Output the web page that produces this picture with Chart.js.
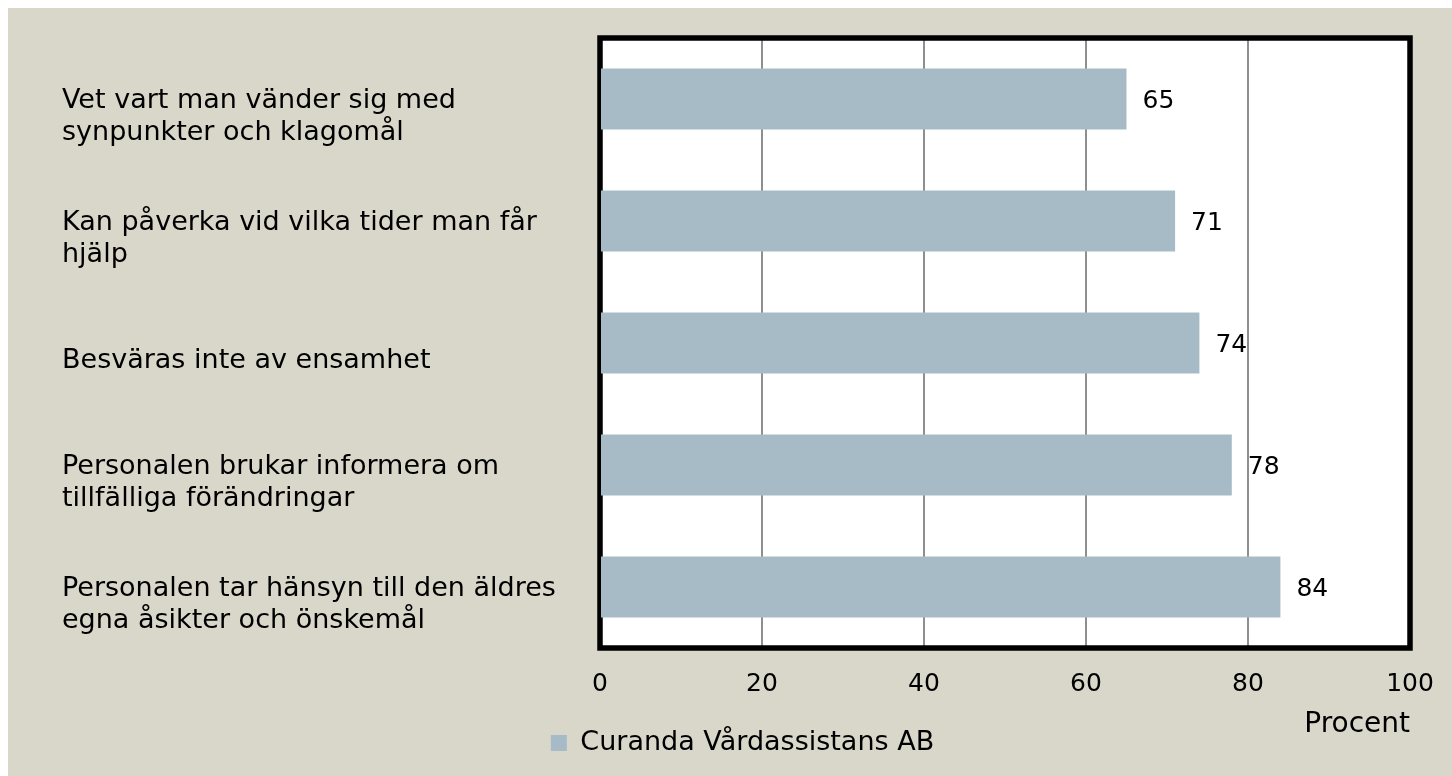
<!DOCTYPE html>
<html lang="sv">
<head>
<meta charset="utf-8">
<title>Curanda Vårdassistans AB</title>
<script src="https://cdn.jsdelivr.net/npm/chart.js@4.4.1/dist/chart.umd.min.js"></script>
<style>
  html, body { margin: 0; padding: 0; background: #ffffff; }
  #ram { position: absolute; left: 8px; top: 8px; width: 1444px; height: 768px; background: #d9d6ca; }
</style>
</head>
<body>
<div id="ram"><canvas id="grafico"></canvas></div>
<script>
// Data
const kategorier = [
    ['Vet vart man vänder sig med', 'synpunkter och klagomål'],
    ['Kan påverka vid vilka tider man får', 'hjälp'],
    'Besväras inte av ensamhet',
    ['Personalen brukar informera om', 'tillfälliga förändringar'],
    ['Personalen tar hänsyn till den äldres', 'egna åsikter och önskemål']
];
const andelar = [65, 71, 74, 78, 84];
const xMin = 0;
const xMax = 100;
const xSteg = 20;
const serieNamn = 'Curanda Vårdassistans AB';
const axelTitel = 'Procent';

const FONT = "'DejaVu Sans', sans-serif";
const BAR_COLOR = '#a7bbc6';

Chart.defaults.font.family = FONT;
Chart.defaults.color = '#000000';

// vit rityta + tjock svart ram (staplarna ritas ovanpå)
const ramPlugin = {
    id: 'ramPlugin',
    beforeDraw(chart) {
        const { ctx, chartArea: a } = chart;
        ctx.save();
        ctx.fillStyle = '#ffffff';
        ctx.fillRect(a.left, a.top, a.width, a.height);
        ctx.restore();
    },
    beforeDatasetsDraw(chart) {
        const { ctx, chartArea: a } = chart;
        ctx.save();
        ctx.strokeStyle = '#000000';
        ctx.lineWidth = 5.5;
        ctx.strokeRect(a.left, a.top, a.width, a.height);
        ctx.restore();
    }
};

// värden till höger om staplarna
const vardePlugin = {
    id: 'vardePlugin',
    afterDatasetsDraw(chart) {
        const { ctx } = chart;
        const meta = chart.getDatasetMeta(0);
        ctx.save();
        ctx.font = '25px ' + FONT;
        ctx.fillStyle = '#000000';
        ctx.textAlign = 'left';
        ctx.textBaseline = 'middle';
        meta.data.forEach((bar, i) => {
            ctx.fillText(String(andelar[i]), bar.x + 16, bar.y + 2);
        });
        ctx.restore();
    }
};

const ctx = document.getElementById('grafico');

new Chart(ctx, {
    type: 'bar',
    data: {
        labels: kategorier,
        datasets: [{
            label: serieNamn,
            data: andelar,
            backgroundColor: BAR_COLOR,
            borderWidth: 0,
            categoryPercentage: 1,
            barPercentage: 0.5
        }]
    },
    options: {
        indexAxis: 'y',
        responsive: true,
        maintainAspectRatio: false,
        animation: false,
        layout: {
            padding: { left: 54, right: 29, top: 30, bottom: 9.5 }
        },
        scales: {
            x: {
                min: xMin,
                max: xMax,
                ticks: {
                    stepSize: xSteg,
                    padding: 21,
                    font: { size: 25, lineHeight: 1.2 }
                },
                grid: {
                    color: '#8f8f8f',
                    lineWidth: 2,
                    drawTicks: false
                },
                border: { display: false },
                title: {
                    display: true,
                    text: axelTitel,
                    align: 'end',
                    font: { size: 28, lineHeight: 1.2 },
                    padding: { top: -12, bottom: -16.1 }
                },
                afterFit(scale) {
                    scale.paddingRight = 42;
                }
            },
            y: {
                ticks: {
                    crossAlign: 'far',
                    padding: 0,
                    labelOffset: 18,
                    font: { size: 27, lineHeight: 1.22 }
                },
                grid: { display: false, drawTicks: false },
                border: { display: false },
                afterFit(scale) {
                    scale.width = 538;
                    scale.paddingTop = 0;
                    scale.paddingBottom = 0;
                }
            }
        },
        plugins: {
            legend: {
                position: 'bottom',
                labels: {
                    boxWidth: 16,
                    boxHeight: 16,
                    padding: 4,
                    font: { size: 27, lineHeight: 1.2 }
                }
            },
            tooltip: { enabled: false }
        }
    },
    plugins: [ramPlugin, vardePlugin]
});
</script>
</body>
</html>
